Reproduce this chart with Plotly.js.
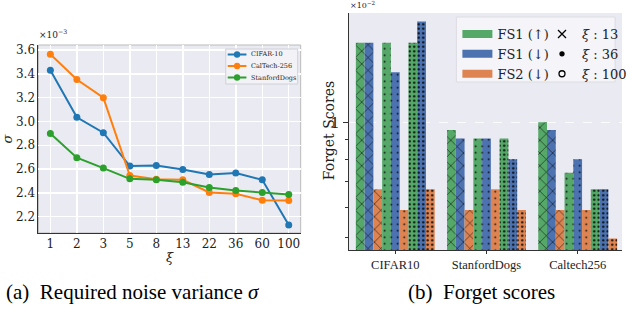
<!DOCTYPE html>
<html><head><meta charset="utf-8">
<script src="https://cdn.plot.ly/plotly-3.0.1.min.js"></script>
<style>html,body{margin:0;padding:0;background:#fff}</style>
</head><body><div id="chart" style="width:632px;height:310px"></div>
<script>
// (a) required noise variance sigma, in units of 1e-3
const xiLabels = ['1','2','3','5','8','13','22','36','60','100'];
const sigmaCifar   = [3.43, 3.035, 2.905, 2.625, 2.63, 2.597, 2.555, 2.566, 2.51, 2.13];
const sigmaCaltech = [3.565, 3.352, 3.20, 2.546, 2.515, 2.51, 2.403, 2.392, 2.338, 2.335];
const sigmaDogs    = [2.899, 2.696, 2.608, 2.518, 2.51, 2.49, 2.445, 2.42, 2.403, 2.386];
const seriesNames  = ['CIFAR-10', 'CalTech-256', 'StanfordDogs'];

// (b) forget scores, in units of 1e-2, order: CIFAR10, StanfordDogs, Caltech256
const datasets = ['CIFAR10', 'StanfordDogs', 'Caltech256'];
const xiValues = ['13', '36', '100'];
const fs1Up_13    = [1.61, 0.955, 1.00];
const fs1Down_13  = [1.61, 0.908, 0.955];
const fs2Down_13  = [0.669, 0.591, 0.591];
const fs1Up_36    = [1.61, 0.908, 0.739];
const fs1Down_36  = [1.35, 0.908, 0.801];
const fs2Down_36  = [0.591, 0.669, 0.591];
const fs1Up_100   = [1.61, 0.908, 0.669];
const fs1Down_100 = [1.83, 0.801, 0.669];
const fs2Down_100 = [0.669, 0.591, 0.498];
const scoreNames = ['FS1 (↑)', 'FS1 (↓)', 'FS2 (↓)'];
const minorTicks = [0.5, 0.6, 0.7, 0.8, 0.9];

const W = 632, H = 310;
const px = v => v / W, py = v => 1 - v / H;
const serif = 'DejaVu Serif';
const lineColors = ['#1f77b4', '#ff7f0e', '#2ca02c'];
const barColors = ['#55a868', '#4c72b0', '#dd8452'];
const patterns = {
  '13':  {shape: 'x', size: 9, solidity: 0.12},
  '36':  {shape: '.', size: 6.5, solidity: 0.06},
  '100': {shape: '.', size: 4.5, solidity: 0.22}
};

const traces = [];
[sigmaCifar, sigmaCaltech, sigmaDogs].forEach((ys, i) => {
  traces.push({
    type: 'scatter', mode: 'lines+markers', x: xiLabels, y: ys, name: seriesNames[i],
    line: {color: lineColors[i], width: 2}, marker: {color: lineColors[i], size: 7},
    xaxis: 'x', yaxis: 'y', showlegend: false
  });
});

const barSets = {
  '13':  [fs1Up_13, fs1Down_13, fs2Down_13],
  '36':  [fs1Up_36, fs1Down_36, fs2Down_36],
  '100': [fs1Up_100, fs1Down_100, fs2Down_100]
};
xiValues.forEach(xi => {
  barSets[xi].forEach((vals, j) => {
    const p = Object.assign({fgcolor: '#000', fgopacity: 0.9, bgcolor: barColors[j], fillmode: 'replace'}, patterns[xi]);
    traces.push({
      type: 'bar', x: datasets, y: vals, xaxis: 'x2', yaxis: 'y2', showlegend: false,
      marker: {color: barColors[j], line: {width: 0}, pattern: p}
    });
  });
});
// legend entries for score types
scoreNames.forEach((n, j) => {
  traces.push({type: 'scatter', mode: 'lines', x: [null], y: [null], name: n,
    line: {color: barColors[j], width: 8}, xaxis: 'x2', yaxis: 'y2', legend: 'legend2'});
});
// legend entries for xi hatches
const xiSymbols = [['x-thin-open', 8], ['circle', 4], ['circle-open', 6]];
xiValues.forEach((xi, k) => {
  traces.push({type: 'scatter', mode: 'markers', x: [null], y: [null], name: '<i>ξ</i> : ' + xi,
    marker: {color: '#000', symbol: xiSymbols[k][0], size: xiSymbols[k][1], line: {width: 1.3, color: '#000'}},
    xaxis: 'x2', yaxis: 'y2', legend: 'legend3'});
});

// compact legend for panel (a), drawn as decoration in paper coordinates
const legShapes = [{type: 'rect', xref: 'paper', yref: 'paper', x0: px(229), x1: px(302), y0: py(84), y1: py(49),
  fillcolor: 'rgba(242,242,247,0.95)', line: {color: '#d0d0d8', width: 1}, layer: 'above'}];
const legAnn = [];
const rowsY = [54.5, 66, 77.5];
seriesNames.forEach((n, i) => {
  legShapes.push({type: 'line', xref: 'paper', yref: 'paper', x0: px(231), x1: px(250), y0: py(rowsY[i]), y1: py(rowsY[i]),
    line: {color: lineColors[i], width: 2}, layer: 'above'});
  legShapes.push({type: 'circle', xref: 'paper', yref: 'paper', x0: px(237.3), x1: px(243.7), y0: py(rowsY[i] + 3.2), y1: py(rowsY[i] - 3.2),
    fillcolor: lineColors[i], line: {width: 0}, layer: 'above'});
  legAnn.push({xref: 'paper', yref: 'paper', x: px(252.5), y: py(rowsY[i]), xanchor: 'left', yanchor: 'middle',
    text: n, showarrow: false, font: {size: 6.5, family: serif, color: '#222'}});
});

const layout = {
  width: W, height: H, margin: {l: 0, r: 0, t: 0, b: 0},
  paper_bgcolor: '#fff', plot_bgcolor: '#eaeaf2',
  font: {family: serif, color: '#222', size: 12},
  barmode: 'group', bargap: 0.135, bargroupgap: 0,
  xaxis: {domain: [px(39), px(305)], anchor: 'y', type: 'category', range: [-0.45, 9.45],
    showgrid: true, gridcolor: '#fff', gridwidth: 1.5, showline: true, linecolor: '#333', linewidth: 1,
    ticks: '', tickfont: {size: 12, family: serif}, zeroline: false,
    title: {text: '<i>ξ</i>', font: {size: 13, family: serif}, standoff: 2}},
  yaxis: {domain: [py(233), py(45)], anchor: 'x', range: [2.063, 3.642], tick0: 2.2, dtick: 0.2, tickformat: '.1f',
    showgrid: true, gridcolor: '#fff', gridwidth: 1.5, showline: true, linecolor: '#333', linewidth: 1,
    ticks: '', zeroline: false, tickfont: {size: 12, family: serif},
    title: {text: '<i>σ</i>', font: {size: 13, family: serif}, standoff: 4}},
  xaxis2: {domain: [px(354), px(631)], anchor: 'y2', type: 'category', range: [-0.508, 2.486],
    showgrid: false, showline: true, linecolor: '#333', linewidth: 1.2, ticks: 'outside', ticklen: 3,
    tickcolor: '#333', tickfont: {size: 12.5, family: 'Liberation Serif'}, zeroline: false},
  yaxis2: {domain: [py(250), py(13)], anchor: 'x2', type: 'log', range: [-0.3326, 0.2846],
    tickvals: [1], ticktext: ['1'], ticks: 'outside', ticklen: 5, tickcolor: '#333',
    showgrid: true, gridcolor: 'rgba(255,255,255,0.8)', griddash: 'dash', gridwidth: 1,
    minor: {tickvals: minorTicks, ticks: 'outside', ticklen: 3, tickcolor: '#333', showgrid: false},
    showline: true, linecolor: '#333', linewidth: 1.2, zeroline: false,
    tickfont: {size: 15, family: serif}},
  legend2: {x: px(464), y: py(19), xanchor: 'left', yanchor: 'top', bgcolor: 'rgba(0,0,0,0)',
    font: {size: 13, family: serif}, itemwidth: 30},
  legend3: {x: px(550), y: py(19), xanchor: 'left', yanchor: 'top', bgcolor: 'rgba(0,0,0,0)',
    font: {size: 13, family: serif}, itemwidth: 30},
  shapes: [
    {type: 'rect', xref: 'x domain', yref: 'y domain', x0: 0, x1: 1, y0: 0, y1: 1,
      line: {color: '#bbbbbb', width: 1}, layer: 'below'},
    {type: 'rect', xref: 'paper', yref: 'paper', x0: px(463), x1: px(624), y0: py(82), y1: py(17),
      fillcolor: 'rgba(245,245,250,0.9)', line: {color: '#dcdce2', width: 1}, layer: 'above'}
  ].concat(legShapes),
  annotations: [
    {xref: 'paper', yref: 'paper', x: px(38), y: py(42), xanchor: 'left', yanchor: 'bottom',
      text: '×10<sup>−3</sup>', showarrow: false, font: {size: 9, family: serif}},
    {xref: 'paper', yref: 'paper', x: px(353), y: py(12), xanchor: 'left', yanchor: 'bottom',
      text: '×10<sup>−2</sup>', showarrow: false, font: {size: 8, family: serif}},
    {xref: 'paper', yref: 'paper', x: px(334), y: py(131), xanchor: 'center', yanchor: 'middle', textangle: -90,
      text: 'Forget Scores', showarrow: false, font: {size: 14, family: serif, color: '#222'}},
    {xref: 'paper', yref: 'paper', x: px(4), y: py(292), xanchor: 'left', yanchor: 'middle',
      text: '(a)\u2002Required noise variance <i>σ</i>', showarrow: false,
      font: {size: 21, family: 'Liberation Serif', color: '#000'}},
    {xref: 'paper', yref: 'paper', x: px(488), y: py(292), xanchor: 'center', yanchor: 'middle',
      text: '(b)\u2002Forget scores', showarrow: false,
      font: {size: 21, family: 'Liberation Serif', color: '#000'}}
  ].concat(legAnn)
};

Plotly.newPlot('chart', traces, layout, {displayModeBar: false, staticPlot: true});
</script></body></html>
